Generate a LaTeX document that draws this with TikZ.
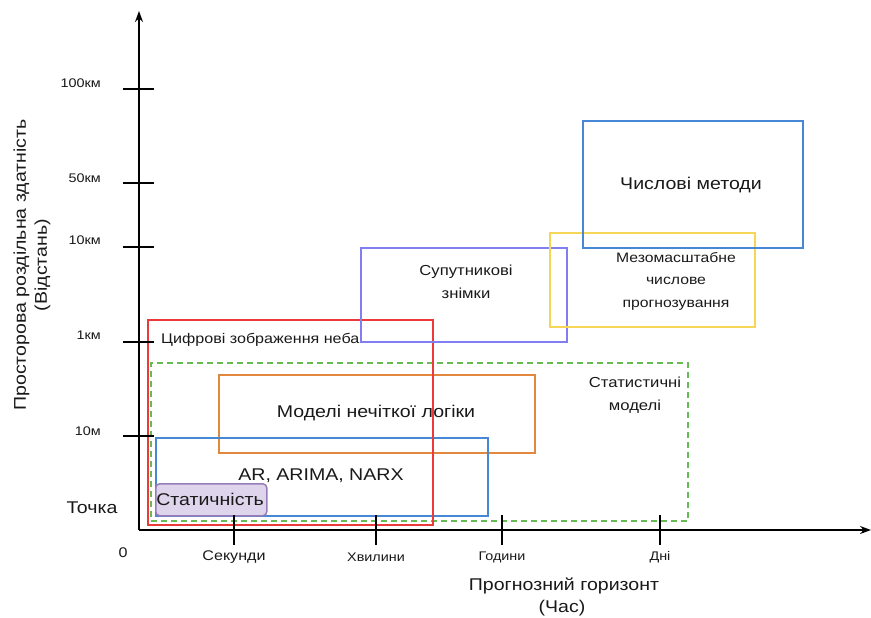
\documentclass[tikz,border=0pt]{standalone}
\usepackage{fontspec}
\setmainfont[FakeStretch=1.15]{Liberation Sans}
\usetikzlibrary{arrows.meta}
\definecolor{redc}{RGB}{236,58,58}
\definecolor{greenc}{RGB}{104,186,84}
\definecolor{orangec}{RGB}{226,136,62}
\definecolor{bluec}{RGB}{70,136,214}
\definecolor{purplec}{RGB}{128,126,240}
\definecolor{yellowc}{RGB}{246,214,86}
\definecolor{statfill}{RGB}{222,212,236}
\definecolor{statdraw}{RGB}{152,124,184}
\newcommand{\fs}[2]{\fontsize{#1}{#2}\selectfont}
\begin{document}
\begin{tikzpicture}[x=1pt,y=-1pt,
  box/.style={draw, line width=1.9pt, anchor=north west, inner sep=0pt},
  lbl/.style={inner sep=0pt, align=center, text=black!90},
  axis/.style={line width=1.4pt, -{Stealth[length=11pt,width=8pt]}},
  tick/.style={line width=1.3pt}]
\useasboundingbox (0,0) rectangle (871,618);

% boxes
\node[box, draw=greenc, dash pattern=on 6pt off 4pt, minimum width=537pt, minimum height=158pt] (stat) at (150,362) {};
\node[box, draw=orangec, minimum width=316pt, minimum height=78pt] (fuzzy) at (218,374) {};
\node[box, draw=bluec, minimum width=332pt, minimum height=78pt] (arima) at (155,437) {};
\node[box, draw=redc, minimum width=285pt, minimum height=205pt] (sky) at (147,319) {};
\node[box, draw=purplec, minimum width=206pt, minimum height=94pt] (sat) at (360,247) {};
\node[box, draw=yellowc, minimum width=205pt, minimum height=94pt] (meso) at (549,232) {};
\node[box, draw=bluec, minimum width=220pt, minimum height=127pt] (num) at (582,120) {};
\node[box, draw=statdraw, fill=statfill, line width=1.5pt, rounded corners=4pt, minimum width=111pt, minimum height=32pt] (persist) at (155,483) {};

% axes
\coordinate (O) at (139,530);
\coordinate (ytip) at (139,11);
\coordinate (xtip) at (871,530);
\draw[axis] (O) -- (ytip);
\draw[axis] (O) -- (xtip);

% y ticks
\foreach \yy/\t/\ly in {89/100км/83, 183/50км/178, 247/10км/240, 342/1км/335, 436/10м/431}{
  \coordinate (ya\yy) at (123,\yy);
  \coordinate (yb\yy) at (154,\yy);
  \draw[tick] (ya\yy) -- (yb\yy);
  \node[lbl, anchor=east, font=\fs{12.5}{14}] (yl\yy) at (101,\ly) {\t};
}
% x ticks
\foreach \xx in {234,376,502,660}{
  \coordinate (xa\xx) at (\xx,515);
  \coordinate (xb\xx) at (\xx,545);
  \draw[tick] (xa\xx) -- (xb\xx);
}
\node[lbl, font=\fs{14}{16}] (sec) at (234,557) {Секунди};
\node[lbl, font=\fs{12.5}{14}] (min) at (376,557) {Хвилини};
\node[lbl, font=\fs{12.5}{14}] (hrs) at (502,557) {Години};
\node[lbl, font=\fs{12.5}{14}] (days) at (660,557) {Дні};

\node[lbl, font=\fs{14}{16}] (zero) at (123,553) {0};
\node[lbl, font=\fs{17}{20}] (point) at (92,508) {Точка};
\node[lbl, font=\fs{17}{20}] (xlab) at (564,586) {Прогнозний горизонт};
\node[lbl, font=\fs{17}{20}] (xlab2) at (562,608) {(Час)};
\node[lbl, font=\fs{17}{21}, rotate=90] (ylab) at (32,265) {Просторова роздільна здатність\\(Відстань)};

% box labels
\node[lbl, anchor=west, font=\fs{14}{16}] (skyl) at (161,340) {Цифрові зображення неба};
\node[lbl, font=\fs{17}{20}] (fuzzyl) at (376,413) {Моделі нечіткої логіки};
\node[lbl, font=\fs{17}{20}] (arimal) at (321,476) {AR, ARIMA, NARX};
\node[lbl, font=\fs{17}{20}] (persistl) at (210,499) {Статичність};
\node[lbl, font=\fs{14.5}{23}] (satl) at (466,282) {Супутникові\\знімки};
\node[lbl, font=\fs{13.7}{22.5}] (mesol) at (676,281) {Мезомасштабне\\числове\\прогнозування};
\node[lbl, font=\fs{17}{20}] (numl) at (691,185) {Числові методи};
\node[lbl, font=\fs{14.5}{23}] (statl) at (635,395) {Статистичні\\моделі};
\end{tikzpicture}
\end{document}
